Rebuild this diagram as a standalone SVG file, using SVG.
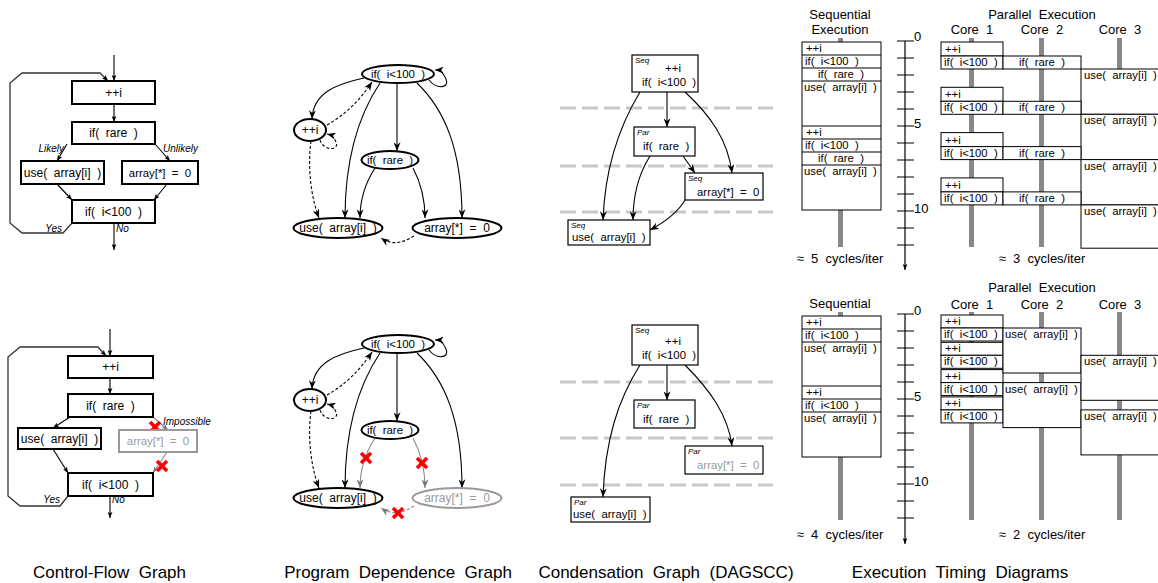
<svg xmlns="http://www.w3.org/2000/svg" width="1158" height="583" viewBox="0 0 1158 583">
<style>
text{font-family:"Liberation Sans",Arial,Helvetica,sans-serif;white-space:pre;fill:#000}
.t12{font-size:12px}
.t115{font-size:11.4px}
.t11{font-size:11.3px}
.t13{font-size:13px}
.t16{font-size:17px}
.lbl{font-size:10px;font-style:italic}
.it{font-size:8px;font-style:italic}
.b{fill:#fff;stroke:#000;stroke-width:2}
.bg{fill:#fff;stroke:#999;stroke-width:2}
.n{fill:#fff;stroke:#000;stroke-width:1.2}
.tb{fill:#fff;stroke:#000;stroke-width:1}
.ell{fill:#fff;stroke:#000;stroke-width:2}
.ellg{fill:#fff;stroke:#999;stroke-width:2}
.e{fill:none;stroke:#000;stroke-width:1.1}
.eg{fill:none;stroke:#8a8a8a;stroke-width:1.1}
.loop{fill:none;stroke:#333;stroke-width:1.3}
.d{stroke-dasharray:3,2}
.gt{fill:#999}
.x{stroke:#f00;stroke-width:3.5}
.dl{stroke:#c8c8c8;stroke-width:3;stroke-dasharray:16,6;fill:none}
.bar{fill:#888}
.ax{stroke:#000;stroke-width:1.2;fill:none}
</style>
<defs>
<marker id="as" viewBox="0 0 10 8" refX="10" refY="4" markerWidth="6" markerHeight="5" orient="auto" markerUnits="userSpaceOnUse"><path d="M0,0 L10,4 L0,8 L2,4 z" fill="#000"/></marker>
<marker id="asg" viewBox="0 0 10 8" refX="10" refY="4" markerWidth="6" markerHeight="5" orient="auto" markerUnits="userSpaceOnUse"><path d="M0,0 L10,4 L0,8 L2,4 z" fill="#777"/></marker>
<marker id="ah" viewBox="0 0 10 8" refX="10" refY="4" markerWidth="9" markerHeight="7" orient="auto" markerUnits="userSpaceOnUse"><path d="M0,0 L10,4 L0,8 L3,4 z" fill="#000"/></marker>
<marker id="ahg" viewBox="0 0 10 8" refX="10" refY="4" markerWidth="9" markerHeight="7" orient="auto" markerUnits="userSpaceOnUse"><path d="M0,0 L10,4 L0,8 L3,4 z" fill="#777"/></marker>
<g id="xm"><line class="x" x1="-5" y1="-5" x2="5" y2="5"/><line class="x" x1="5" y1="-5" x2="-5" y2="5"/></g>
</defs>
<rect width="1158" height="583" fill="#fff"/>

<!-- ===== CFG top ===== -->
<g id="cfg1-edges">
<path class="e" d="M114,55 L114,81" marker-end="url(#as)"/>
<path class="e" d="M114,104 L114,122" marker-end="url(#as)"/>
<path class="e" d="M67,144 L57,161" marker-end="url(#as)"/>
<path class="e" d="M155,144 L170,161" marker-end="url(#as)"/>
<path class="e" d="M57,184 L72,200" marker-end="url(#as)"/>
<path class="e" d="M167,184 L154,200" marker-end="url(#as)"/>
<path class="e" d="M114,223 L114,250" marker-end="url(#as)"/>
<path class="loop" d="M72,223 L63,233 L22,233 L10,223 L10,83 L22,73 L100,73 L108,81" marker-end="url(#as)"/>
<text class="lbl" x="64" y="152" text-anchor="end">Likely</text>
<text class="lbl" x="163" y="152">Unlikely</text>
<text class="lbl" x="62" y="232" text-anchor="end">Yes</text>
<text class="lbl" x="116" y="232">No</text>
</g>
<g id="cfg1-inc"><rect class="b" x="72" y="81" width="83" height="23"/><text class="t12" x="113.5" y="97" text-anchor="middle">++i</text></g>
<g id="cfg1-rare"><rect class="b" x="72" y="122" width="83" height="22"/><text class="t12" x="113.5" y="137" text-anchor="middle">if(  rare  )</text></g>
<g id="cfg1-use"><rect class="b" x="21" y="161" width="83" height="23"/><text class="t12" x="62.5" y="177" text-anchor="middle">use(  array[i]  )</text></g>
<g id="cfg1-arr"><rect class="b" x="122" y="161" width="76" height="23"/><text class="t115" x="160" y="177" text-anchor="middle">array[*]  =  0</text></g>
<g id="cfg1-cond"><rect class="b" x="72" y="200" width="83" height="23"/><text class="t12" x="113.5" y="216" text-anchor="middle">if(  i&lt;100  )</text></g>

<!-- ===== CFG bottom ===== -->
<g id="cfg2-edges">
<path class="e" d="M110,329 L110,356" marker-end="url(#as)"/>
<path class="e" d="M110,378 L110,394" marker-end="url(#as)"/>
<path class="e" d="M70,417 L53,428" marker-end="url(#as)"/>
<path class="eg" d="M153,417 L168,430" marker-end="url(#asg)"/>
<path class="e" d="M53,449 L68,473" marker-end="url(#as)"/>
<path class="eg" d="M167,452 L153,473" marker-end="url(#asg)"/>
<path class="e" d="M110,496 L110,518" marker-end="url(#as)"/>
<path class="loop" d="M68,496 L60,506 L20,506 L8,496 L8,357 L20,347 L98,347 L106,356" marker-end="url(#as)"/>
<text class="lbl" x="163" y="425">Impossible</text>
<text class="lbl" x="60" y="503" text-anchor="end">Yes</text>
<text class="lbl" x="112" y="503">No</text>
<use href="#xm" x="155" y="427"/>
<use href="#xm" x="162" y="466"/>
</g>
<g id="cfg2-inc"><rect class="b" x="68" y="356" width="85" height="22"/><text class="t12" x="110.5" y="371" text-anchor="middle">++i</text></g>
<g id="cfg2-rare"><rect class="b" x="68" y="394" width="85" height="23"/><text class="t12" x="110.5" y="410" text-anchor="middle">if(  rare  )</text></g>
<g id="cfg2-use"><rect class="b" x="18" y="428" width="83" height="21"/><text class="t12" x="59.5" y="443" text-anchor="middle">use(  array[i]  )</text></g>
<g id="cfg2-arr"><rect class="bg" x="119" y="430" width="78" height="22"/><text class="t115 gt" x="158" y="445" text-anchor="middle">array[*]  =  0</text></g>
<g id="cfg2-cond"><rect class="b" x="68" y="473" width="85" height="23"/><text class="t12" x="110.5" y="489" text-anchor="middle">if(  i&lt;100  )</text></g>

<!-- ===== PDG top ===== -->
<g id="pdg1-edges">
<path class="e" d="M364,78 C336,84 313,93 312,119" marker-end="url(#ah)"/>
<path class="e" d="M380,83 C362,110 345,150 345,218" marker-end="url(#ah)"/>
<path class="e" d="M397,83 L397,151" marker-end="url(#ah)"/>
<path class="e" d="M417,83 C445,110 462,150 462,218" marker-end="url(#ah)"/>
<path class="e" d="M375,168 C364,185 360,200 360,218" marker-end="url(#ah)"/>
<path class="e" d="M413,168 C422,185 425,200 425,218" marker-end="url(#ah)"/>
<path class="e" d="M429,80 C437,90 450,88 446,79 C443,72 440,70 435,70" marker-end="url(#ah)"/>
<path class="e d" d="M327,125 C345,115 360,100 372,82" marker-end="url(#ah)"/>
<path class="e d" d="M320,140 C324,152 340,150 336,142 C334,137 331,135 327,134" marker-end="url(#ah)"/>
<path class="e d" d="M311,141 C307,170 312,200 319,218" marker-end="url(#ah)"/>
<path class="e d" d="M414,236 C400,245 390,244 381,238" marker-end="url(#ah)"/>
</g>
<g id="pdg1-cond"><ellipse class="ell" cx="398" cy="74" rx="36" ry="9"/><text class="t115" x="398" y="78" text-anchor="middle">if(  i&lt;100  )</text></g>
<g id="pdg1-inc"><ellipse class="ell" cx="310" cy="130" rx="16" ry="11" stroke-width="2.6"/><text class="t12" x="310" y="134" text-anchor="middle">++i</text></g>
<g id="pdg1-rare"><ellipse class="ell" cx="390" cy="160" rx="28.5" ry="9"/><text class="t115" x="390" y="164" text-anchor="middle">if(  rare  )</text></g>
<g id="pdg1-use"><ellipse class="ell" cx="338" cy="228" rx="44.5" ry="10"/><text class="t12" x="338" y="232" text-anchor="middle">use(  array[i]  )</text></g>
<g id="pdg1-arr"><ellipse class="ell" cx="457" cy="228" rx="44.5" ry="10"/><text class="t12" x="457" y="232" text-anchor="middle">array[*]  =  0</text></g>

<!-- ===== PDG bottom ===== -->
<g id="pdg2-edges">
<path class="e" d="M364,348 C336,354 313,363 312,389" marker-end="url(#ah)"/>
<path class="e" d="M380,353 C362,380 345,420 345,488" marker-end="url(#ah)"/>
<path class="e" d="M397,353 L397,421" marker-end="url(#ah)"/>
<path class="e" d="M417,353 C445,380 462,420 462,488" marker-end="url(#ah)"/>
<path class="eg" d="M375,438 C364,455 360,470 360,488" marker-end="url(#ahg)"/>
<path class="eg" d="M413,438 C422,455 425,470 425,488" marker-end="url(#ahg)"/>
<path class="e" d="M429,350 C437,360 450,358 446,349 C443,342 440,340 435,340" marker-end="url(#ah)"/>
<path class="e d" d="M327,395 C345,385 360,370 372,352" marker-end="url(#ah)"/>
<path class="e d" d="M320,410 C324,422 340,420 336,412 C334,407 331,405 327,404" marker-end="url(#ah)"/>
<path class="e d" d="M311,411 C307,440 312,470 319,488" marker-end="url(#ah)"/>
<path class="eg d" d="M414,506 C400,515 390,514 381,508" marker-end="url(#ahg)"/>
<use href="#xm" x="366" y="458"/>
<use href="#xm" x="422" y="463"/>
<use href="#xm" x="398" y="513"/>
</g>
<g id="pdg2-cond"><ellipse class="ell" cx="398" cy="344" rx="36" ry="9"/><text class="t115" x="398" y="348" text-anchor="middle">if(  i&lt;100  )</text></g>
<g id="pdg2-inc"><ellipse class="ell" cx="310" cy="400" rx="16" ry="11" stroke-width="2.6"/><text class="t12" x="310" y="404" text-anchor="middle">++i</text></g>
<g id="pdg2-rare"><ellipse class="ell" cx="390" cy="430" rx="28.5" ry="9"/><text class="t115" x="390" y="434" text-anchor="middle">if(  rare  )</text></g>
<g id="pdg2-use"><ellipse class="ell" cx="338" cy="498" rx="44.5" ry="10"/><text class="t12" x="338" y="502" text-anchor="middle">use(  array[i]  )</text></g>
<g id="pdg2-arr"><ellipse class="ellg" cx="457" cy="498" rx="44.5" ry="10"/><text class="t12 gt" x="457" y="502" text-anchor="middle">array[*]  =  0</text></g>

<!-- ===== DAGSCC top ===== -->
<g id="dag1-stages">
<line class="dl" x1="560" y1="108" x2="773" y2="108"/>
<line class="dl" x1="560" y1="166" x2="773" y2="166"/>
<line class="dl" x1="560" y1="212" x2="773" y2="212"/>
</g>
<g id="dag1-edges">
<path class="e" d="M667,92 L667,127" marker-end="url(#ah)"/>
<path class="e" d="M640,92 C620,125 605,165 603,220" marker-end="url(#ah)"/>
<path class="e" d="M685,92 C710,115 728,140 732,173" marker-end="url(#ah)"/>
<path class="e" d="M650,156 C638,175 633,195 633,220" marker-end="url(#ah)"/>
<path class="e" d="M683,156 L695,173" marker-end="url(#ah)"/>
<path class="e" d="M685,200 C678,212 665,222 650,230" marker-end="url(#ah)"/>
</g>
<g id="dag1-seq"><rect class="n" x="632" y="55" width="66" height="37"/><text class="it" x="635" y="63">Seq</text><text class="t115" x="673" y="72" text-anchor="middle">++i</text><text class="t115" x="642" y="86">if(  i&lt;100  )</text></g>
<g id="dag1-rare"><rect class="n" x="634" y="127" width="61" height="29"/><text class="it" x="637" y="135">Par</text><text class="t115" x="643" y="150">if(  rare  )</text></g>
<g id="dag1-arr"><rect class="n" x="685" y="173" width="78" height="27"/><text class="it" x="688" y="181">Seq</text><text class="t115" x="697" y="196">array[*]  =  0</text></g>
<g id="dag1-use"><rect class="n" x="568" y="220" width="82" height="25"/><text class="it" x="571" y="228">Seq</text><text class="t115" x="572" y="241">use(  array[i]  )</text></g>

<!-- ===== DAGSCC bottom ===== -->
<g id="dag2-stages">
<line class="dl" x1="560" y1="382" x2="773" y2="382"/>
<line class="dl" x1="560" y1="438" x2="773" y2="438"/>
<line class="dl" x1="560" y1="485" x2="773" y2="485"/>
</g>
<g id="dag2-edges">
<path class="e" d="M667,365 L667,400" marker-end="url(#ah)"/>
<path class="e" d="M640,365 C618,400 605,440 603,497" marker-end="url(#ah)"/>
<path class="e" d="M685,365 C710,390 728,415 732,446" marker-end="url(#ah)"/>
</g>
<g id="dag2-seq"><rect class="n" x="632" y="325" width="66" height="40"/><text class="it" x="635" y="333">Seq</text><text class="t115" x="673" y="345" text-anchor="middle">++i</text><text class="t115" x="642" y="359">if(  i&lt;100  )</text></g>
<g id="dag2-rare"><rect class="n" x="634" y="400" width="61" height="28"/><text class="it" x="637" y="408">Par</text><text class="t115" x="643" y="423">if(  rare  )</text></g>
<g id="dag2-arr"><rect class="n" x="685" y="446" width="78" height="28"/><text class="it" x="688" y="454">Par</text><text class="t115 gt" x="697" y="469">array[*]  =  0</text></g>
<g id="dag2-use"><rect class="n" x="571" y="497" width="79" height="25"/><text class="it" x="574" y="505">Par</text><text class="t115" x="573" y="518">use(  array[i]  )</text></g>

<!-- ===== Timing top ===== -->
<g id="tim1-seq">
<text class="t13" x="840" y="19" text-anchor="middle">Sequential</text>
<text class="t13" x="840" y="34" text-anchor="middle">Execution</text>
<rect class="bar" x="838" y="38" width="5" height="209"/>
<rect class="tb" x="802" y="42" width="79" height="168"/>
<path class="ax" d="M802,55 H881 M802,68 H881 M802,81 H881 M802,126 H881 M802,139 H881 M802,152 H881 M802,165 H881"/>
<text class="t11" x="806" y="52">++i</text>
<text class="t11" x="805" y="65">if(  i&lt;100  )</text>
<text class="t11" x="841" y="78" text-anchor="middle">if(  rare  )</text>
<text class="t11" x="804" y="91">use(  array[i]  )</text>
<text class="t11" x="806" y="136">++i</text>
<text class="t11" x="805" y="149">if(  i&lt;100  )</text>
<text class="t11" x="841" y="162" text-anchor="middle">if(  rare  )</text>
<text class="t11" x="804" y="175">use(  array[i]  )</text>
<text class="t13" x="840" y="263" text-anchor="middle">≈  5  cycles/iter</text>
</g>
<g id="tim1-axis">
<path class="ax" d="M905,41 L905,270" marker-end="url(#as)"/>
<path class="ax" d="M897,41 H914 M897,58 H914 M897,75 H914 M897,92 H914 M897,109 H914 M897,126 H914 M897,143 H914 M897,160 H914 M897,177 H914 M897,194 H914 M897,211 H914 M897,228 H914 M897,245 H914"/>
<text class="t13" x="914" y="41">0</text>
<text class="t13" x="914" y="128">5</text>
<text class="t13" x="914" y="213">10</text>
</g>
<g id="tim1-par">
<text class="t13" x="1042" y="19" text-anchor="middle">Parallel  Execution</text>
<text class="t13" x="972" y="34" text-anchor="middle">Core  1</text>
<text class="t13" x="1042" y="34" text-anchor="middle">Core  2</text>
<text class="t13" x="1120" y="34" text-anchor="middle">Core  3</text>
<rect class="bar" x="969" y="38" width="5" height="209"/>
<rect class="bar" x="1039" y="38" width="5" height="209"/>
<rect class="bar" x="1117" y="38" width="5" height="40"/>
<g id="tim1-it0"><rect class="tb" x="941" y="42" width="62" height="14"/><text class="t11" x="945" y="53">++i</text><rect class="tb" x="941" y="56" width="62" height="13"/><text class="t11" x="944" y="66">if(  i&lt;100  )</text><rect class="tb" x="1003" y="56" width="78" height="13"/><text class="t11" x="1042" y="66" text-anchor="middle">if(  rare  )</text><rect class="tb" x="1081" y="69" width="90" height="45.3"/><text class="t11" x="1084" y="79">use(  array[i]  )</text></g>
<g id="tim1-it1"><rect class="tb" x="941" y="87.3" width="62" height="14"/><text class="t11" x="945" y="98.3">++i</text><rect class="tb" x="941" y="101.3" width="62" height="13"/><text class="t11" x="944" y="111.3">if(  i&lt;100  )</text><rect class="tb" x="1003" y="101.3" width="78" height="13"/><text class="t11" x="1042" y="111.3" text-anchor="middle">if(  rare  )</text><rect class="tb" x="1081" y="114.3" width="90" height="45.3"/><text class="t11" x="1084" y="124.3">use(  array[i]  )</text></g>
<g id="tim1-it2"><rect class="tb" x="941" y="132.6" width="62" height="14"/><text class="t11" x="945" y="143.6">++i</text><rect class="tb" x="941" y="146.6" width="62" height="13"/><text class="t11" x="944" y="156.6">if(  i&lt;100  )</text><rect class="tb" x="1003" y="146.6" width="78" height="13"/><text class="t11" x="1042" y="156.6" text-anchor="middle">if(  rare  )</text><rect class="tb" x="1081" y="159.6" width="90" height="45.3"/><text class="t11" x="1084" y="169.6">use(  array[i]  )</text></g>
<g id="tim1-it3"><rect class="tb" x="941" y="177.9" width="62" height="14"/><text class="t11" x="945" y="188.9">++i</text><rect class="tb" x="941" y="191.9" width="62" height="13"/><text class="t11" x="944" y="201.9">if(  i&lt;100  )</text><rect class="tb" x="1003" y="191.9" width="78" height="13"/><text class="t11" x="1042" y="201.9" text-anchor="middle">if(  rare  )</text><rect class="tb" x="1081" y="204.9" width="90" height="43.3"/><text class="t11" x="1084" y="214.9">use(  array[i]  )</text></g>
<text class="t13" x="1042" y="263" text-anchor="middle">≈  3  cycles/iter</text>
</g>

<!-- ===== Timing bottom ===== -->
<g id="tim2-seq">
<text class="t13" x="840" y="308" text-anchor="middle">Sequential</text>
<rect class="bar" x="838" y="312" width="5" height="208"/>
<rect class="tb" x="802" y="316" width="79" height="141"/>
<path class="ax" d="M802,329 H881 M802,342 H881 M802,386 H881 M802,399 H881 M802,412 H881"/>
<text class="t11" x="806" y="326">++i</text>
<text class="t11" x="805" y="339">if(  i&lt;100  )</text>
<text class="t11" x="804" y="352">use(  array[i]  )</text>
<text class="t11" x="806" y="396">++i</text>
<text class="t11" x="805" y="409">if(  i&lt;100  )</text>
<text class="t11" x="804" y="422">use(  array[i]  )</text>
<text class="t13" x="840" y="539" text-anchor="middle">≈  4  cycles/iter</text>
</g>
<g id="tim2-axis">
<path class="ax" d="M905,314 L905,544" marker-end="url(#as)"/>
<path class="ax" d="M897,314 H914 M897,331 H914 M897,348 H914 M897,365 H914 M897,382 H914 M897,399 H914 M897,416 H914 M897,433 H914 M897,450 H914 M897,467 H914 M897,484 H914 M897,501 H914 M897,518 H914"/>
<text class="t13" x="914" y="315">0</text>
<text class="t13" x="914" y="401">5</text>
<text class="t13" x="914" y="486">10</text>
</g>
<g id="tim2-par">
<text class="t13" x="1042" y="292" text-anchor="middle">Parallel  Execution</text>
<text class="t13" x="972" y="309" text-anchor="middle">Core  1</text>
<text class="t13" x="1042" y="309" text-anchor="middle">Core  2</text>
<text class="t13" x="1120" y="309" text-anchor="middle">Core  3</text>
<rect class="bar" x="969" y="312" width="5" height="208"/>
<rect class="bar" x="1039" y="312" width="5" height="208"/>
<rect class="bar" x="1117" y="312" width="5" height="208"/>
<g id="tim2-c1">
<rect class="tb" x="941" y="315" width="62" height="13"/><text class="t11" x="945" y="325">++i</text>
<rect class="tb" x="941" y="328" width="62" height="13"/><text class="t11" x="944" y="338">if(  i&lt;100  )</text>
<rect class="tb" x="941" y="342.3" width="62" height="13"/><text class="t11" x="945" y="352.3">++i</text>
<rect class="tb" x="941" y="355.3" width="62" height="13"/><text class="t11" x="944" y="365.3">if(  i&lt;100  )</text>
<rect class="tb" x="941" y="369.6" width="62" height="13"/><text class="t11" x="945" y="379.6">++i</text>
<rect class="tb" x="941" y="382.6" width="62" height="13"/><text class="t11" x="944" y="392.6">if(  i&lt;100  )</text>
<rect class="tb" x="941" y="396.9" width="62" height="13"/><text class="t11" x="945" y="406.9">++i</text>
<rect class="tb" x="941" y="409.9" width="62" height="13"/><text class="t11" x="944" y="419.9">if(  i&lt;100  )</text>
</g>
<g id="tim2-c2">
<rect class="tb" x="1003" y="328" width="78" height="45"/><text class="t11" x="1005" y="338">use(  array[i]  )</text>
<rect class="tb" x="1003" y="382.6" width="78" height="45"/><text class="t11" x="1005" y="392.6">use(  array[i]  )</text>
</g>
<g id="tim2-c3">
<rect class="tb" x="1081" y="355.3" width="90" height="45"/><text class="t11" x="1084" y="365.3">use(  array[i]  )</text>
<rect class="tb" x="1081" y="409.9" width="90" height="45"/><text class="t11" x="1084" y="419.9">use(  array[i]  )</text>
</g>
<text class="t13" x="1042" y="539" text-anchor="middle">≈  2  cycles/iter</text>
</g>

<!-- ===== captions ===== -->
<g id="captions">
<text class="t16" x="109.5" y="578" text-anchor="middle">Control-Flow  Graph</text>
<text class="t16" x="398" y="578" text-anchor="middle">Program  Dependence  Graph</text>
<text class="t16" x="666" y="578" text-anchor="middle">Condensation  Graph  (DAGSCC)</text>
<text class="t16" x="960" y="578" text-anchor="middle">Execution  Timing  Diagrams</text>
</g>
</svg>
